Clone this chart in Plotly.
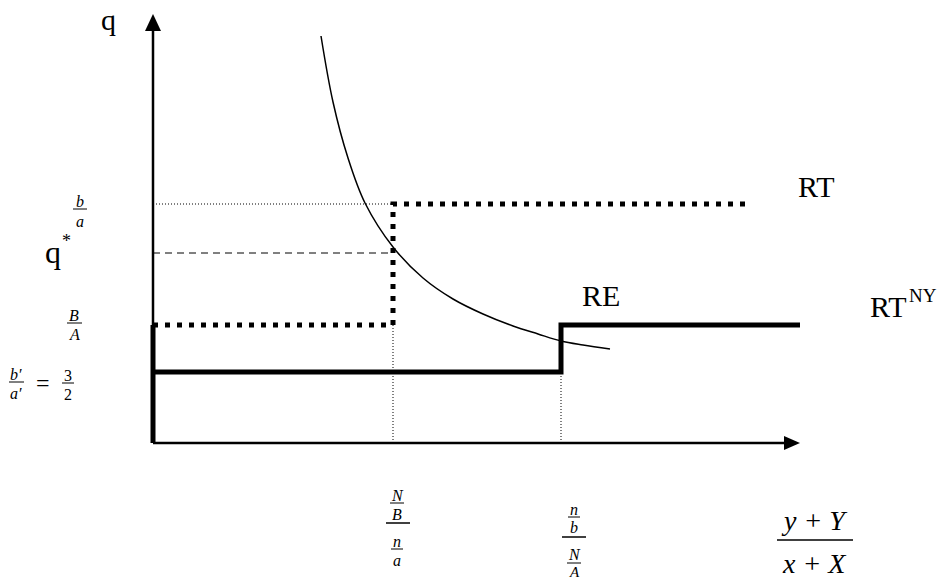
import plotly.graph_objects as go

# ---- data (origin at the axes' intersection) ----
axis_x_end = 647
axis_y_end = 429
x_ticks = [240, 408]                  # N/B / n/a  and  n/b / N/A
y_levels = {"b/a": 239, "q*": 190, "B/A": 118, "b'/a'": 71}

rt_x = [0, 240, 240, 595]
rt_y = [118, 118, 239, 239]

rtny_vert_x = [0, 0]
rtny_vert_y = [0, 118]
rtny_x = [0, 408, 408, 647]
rtny_y = [71, 71, 118, 118]

re_x = [168, 180, 195, 212, 240, 270, 300, 330, 360, 385, 408, 430, 457]
re_y = [407, 341, 285, 240, 196, 165, 144, 129, 117, 109, 102, 98, 94]

FONT = "Times New Roman, Liberation Serif, Tinos, serif"

def px(x):
    return x - 153

def py(y):
    return 443 - y

fig = go.Figure()

def seg(x, y, width=1, dash="solid", color="black"):
    fig.add_trace(go.Scatter(x=x, y=y, mode="lines",
                             line=dict(color=color, width=width, dash=dash),
                             hoverinfo="skip", showlegend=False))

# axes
seg([0, axis_x_end - 14], [0, 0], width=2.5)
seg([0, 0], [0, axis_y_end - 14], width=2.5)
fig.add_shape(type="path", path=f"M {axis_x_end-16},7 L {axis_x_end},0 L {axis_x_end-16},-7 Z",
              fillcolor="black", line=dict(width=0))
fig.add_shape(type="path", path=f"M -8,{axis_y_end-17} L 0,{axis_y_end} L 8,{axis_y_end-17} Z",
              fillcolor="black", line=dict(width=0))

# guide lines
seg([0, x_ticks[0]], [y_levels["b/a"]] * 2, width=1, dash="1px,2px")
seg([0, x_ticks[0]], [y_levels["q*"]] * 2, width=1, dash="7px,5px")
seg([x_ticks[0]] * 2, [0, y_levels["B/A"]], width=1, dash="1px,2px")
seg([x_ticks[1]] * 2, [0, y_levels["b'/a'"]], width=1, dash="1px,2px")

# RT (thick dotted)
seg(rt_x, rt_y, width=5, dash="5px,7px")
# RT^NY (thick solid)
seg(rtny_vert_x, rtny_vert_y, width=5)
seg(rtny_x, rtny_y, width=5)
# RE curve
fig.add_trace(go.Scatter(x=re_x, y=re_y, mode="lines",
                         line=dict(color="black", width=1.5, shape="spline"),
                         hoverinfo="skip", showlegend=False))

def text(x, y, s, size, italic=False, xanchor="center"):
    fig.add_annotation(x=px(x), y=py(y), text=s, showarrow=False,
                       xanchor=xanchor, yanchor="middle",
                       font=dict(family=FONT, size=size, color="black",
                                 style="italic" if italic else "normal"))

def bar(x0, x1, y, w=1):
    fig.add_shape(type="line", x0=px(x0), x1=px(x1), y0=py(y), y1=py(y),
                  line=dict(color="black", width=w))

# q axis label
text(108, 19, "q", 30)
# b/a
text(80, 201, "b", 16, True); bar(73, 87, 209); text(80, 221, "a", 16, True)
# q*
text(53, 252, "q", 32)
text(66, 241, "*", 18)
# B/A
text(74, 315, "B", 16, True); bar(67, 82, 323); text(74, 334, "A", 16, True)
# b'/a' = 3/2
text(16, 374, "b′", 16, True); bar(9, 24, 382); text(16, 393, "a′", 16, True)
text(43, 383, "=", 24)
text(68, 375, "3", 16); bar(62, 74, 383); text(68, 394, "2", 16)

# line labels
text(816, 186, "RT", 30)
text(601, 295, "RE", 30)
text(868, 306, "RT", 30, xanchor="left")
text(907, 295, "NY", 19, xanchor="left")

# x-axis tick labels
text(397, 495, "N", 16, True); bar(390, 404, 503); text(397, 514, "B", 16, True)
bar(386, 410, 523, 1.5)
text(397, 541, "n", 16, True); bar(391, 403, 549); text(397, 560, "a", 16, True)

text(574, 509, "n", 16, True); bar(568, 580, 517); text(574, 527, "b", 16, True)
bar(562, 586, 537, 1.5)
text(574, 554, "N", 16, True); bar(567, 581, 563); text(574, 572, "A", 15, True)

text(814, 520, "y + Y", 28, True)
bar(777, 853, 540, 1.5)
text(814, 563, "x + X", 28, True)

fig.update_layout(
    width=941, height=577,
    margin=dict(l=0, r=0, t=0, b=0),
    paper_bgcolor="white", plot_bgcolor="white",
    font=dict(family=FONT),
    xaxis=dict(range=[-153, 788], visible=False, fixedrange=True),
    yaxis=dict(range=[-134, 443], visible=False, fixedrange=True),
    showlegend=False,
)

fig.write_html("out.html", config={"displayModeBar": False},
               post_script="document.body.style.margin='0px';document.body.style.overflow='hidden';")
